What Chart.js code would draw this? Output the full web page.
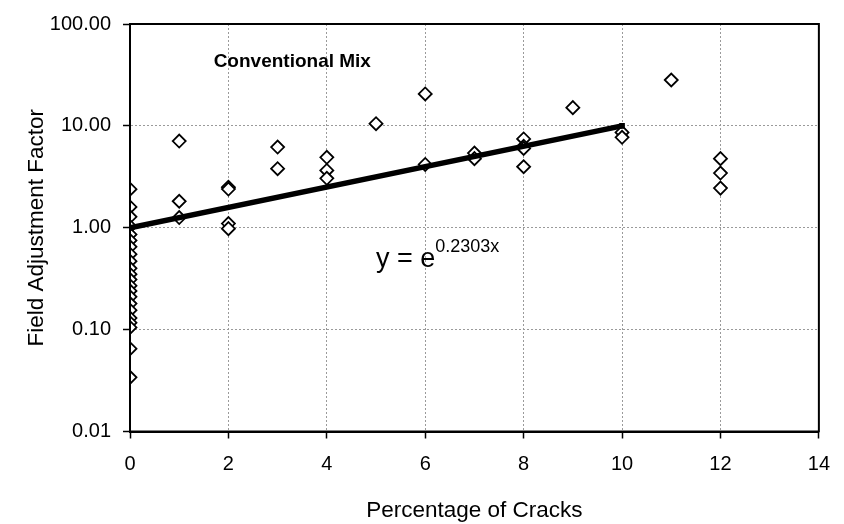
<!DOCTYPE html>
<html>
<head>
<meta charset="utf-8">
<script src="https://cdn.jsdelivr.net/npm/chart.js@4.4.1/dist/chart.umd.min.js"></script>
<style>
    body { margin: 0; background: #fff; }
    canvas { display: block; }
</style>
</head>
<body>
<canvas id="chart" width="844" height="524"></canvas>
<script>
// measured points: x = % of cracks, y = field adjustment factor
const crackPct = [
    0, 0, 0, 0, 0, 0, 0, 0, 0, 0, 0, 0, 0, 0, 0, 0, 0, 0, 0, 0, 0, 0,
    1, 1, 1,
    2, 2, 2, 2,
    3, 3,
    4, 4, 4,
    5,
    6, 6,
    7, 7,
    8, 8, 8, 8,
    9,
    10, 10,
    11,
    12, 12, 12
];
const adjFactor = [
    2.39, 1.60, 1.28, 1.03, 0.86, 0.75, 0.65, 0.55, 0.47, 0.40, 0.35, 0.31, 0.27, 0.24, 0.21, 0.18, 0.155, 0.13, 0.117, 0.105, 0.065, 0.034,
    7.1, 1.82, 1.26,
    2.5, 2.4, 1.10, 0.98,
    6.19, 3.80,
    4.91, 3.65, 3.06,
    10.5,
    20.6, 4.18,
    5.41, 4.77,
    7.44, 6.3, 6.0, 3.97,
    15.1,
    8.63, 7.73,
    28.2,
    4.77, 3.44, 2.45
];

// trend line end points, y = e^(0.2303x)
const trendX = [0, 10];
const trendY = [1, 10];

const yTickValues = [0.01, 0.1, 1, 10, 100];

const FONT = 'Liberation Sans, Arial, sans-serif';

const frame = {
    id: 'frame',
    afterDraw(chart) {
        const ctx = chart.ctx;
        const a = chart.chartArea;
        const x = chart.scales.x;
        const y = chart.scales.y;
        ctx.save();
        ctx.strokeStyle = '#000';
        ctx.lineWidth = 2;
        ctx.strokeRect(a.left, a.top, a.right - a.left, a.bottom - a.top);

        ctx.fillStyle = '#000';
        ctx.textBaseline = 'middle';
        ctx.font = 'bold 19px ' + FONT;
        ctx.fillText('Conventional Mix', x.getPixelForValue(1.7), y.getPixelForValue(43));

        // equation with superscript
        const ex = x.getPixelForValue(5);
        const ey = y.getPixelForValue(0.41);
        ctx.font = '27px ' + FONT;
        ctx.textBaseline = 'alphabetic';
        const main = 'y = e';
        ctx.fillText(main, ex, ey);
        const w = ctx.measureText(main).width;
        ctx.font = '18px ' + FONT;
        ctx.fillText('0.2303x', ex + w, ey - 15);
        ctx.restore();
    }
};

const gridOpts = {
    color: '#9a9a9a',
    lineWidth: 1,
    tickColor: '#000',
    tickLength: 7,
    tickWidth: 1.5
};

new Chart(document.getElementById('chart').getContext('2d'), {
    type: 'scatter',
    data: {
        datasets: [
            {
                label: 'Trend',
                data: trendX.map((v, i) => ({ x: v, y: trendY[i] })),
                showLine: true,
                borderColor: '#000',
                backgroundColor: '#000',
                borderWidth: 5.5,
                pointStyle: 'rect',
                pointRadius: 4,
                pointBorderWidth: 0
            },
            {
                label: 'Measured',
                data: crackPct.map((v, i) => ({ x: v, y: adjFactor[i] })),
                pointStyle: 'rectRot',
                pointRadius: 6.5,
                pointBorderWidth: 1.8,
                borderColor: '#000',
                backgroundColor: '#fff'
            }
        ]
    },
    options: {
        responsive: false,
        animation: false,
        layout: {
            padding: { top: 17, right: 14, left: 0, bottom: 0 }
        },
        plugins: {
            legend: { display: false },
            tooltip: { enabled: false }
        },
        scales: {
            x: {
                type: 'linear',
                min: 0,
                max: 14,
                afterFit: (s) => { s.height = 92.5; },
                ticks: {
                    stepSize: 2,
                    color: '#000',
                    padding: 14,
                    font: { family: FONT, size: 20 }
                },
                grid: gridOpts,
                border: { color: '#000', width: 2, dash: [2, 2] },
                title: {
                    display: true,
                    text: 'Percentage of Cracks',
                    color: '#000',
                    font: { family: FONT, size: 22.5 },
                    padding: { top: 0, bottom: 0 }
                }
            },
            y: {
                type: 'logarithmic',
                min: 0.01,
                max: 100,
                afterFit: (s) => { s.width = 130; },
                afterBuildTicks: (s) => {
                    s.ticks = yTickValues.map(v => ({ value: v }));
                },
                ticks: {
                    color: '#000',
                    padding: 12,
                    font: { family: FONT, size: 20 },
                    callback: (v) => Number(v).toFixed(2)
                },
                grid: gridOpts,
                border: { color: '#000', width: 2, dash: [2, 2] },
                title: {
                    display: true,
                    text: 'Field Adjustment Factor',
                    color: '#000',
                    font: { family: FONT, size: 22.5 },
                    padding: { top: 23, bottom: 0 }
                }
            }
        }
    },
    plugins: [frame]
});
</script>
</body>
</html>
